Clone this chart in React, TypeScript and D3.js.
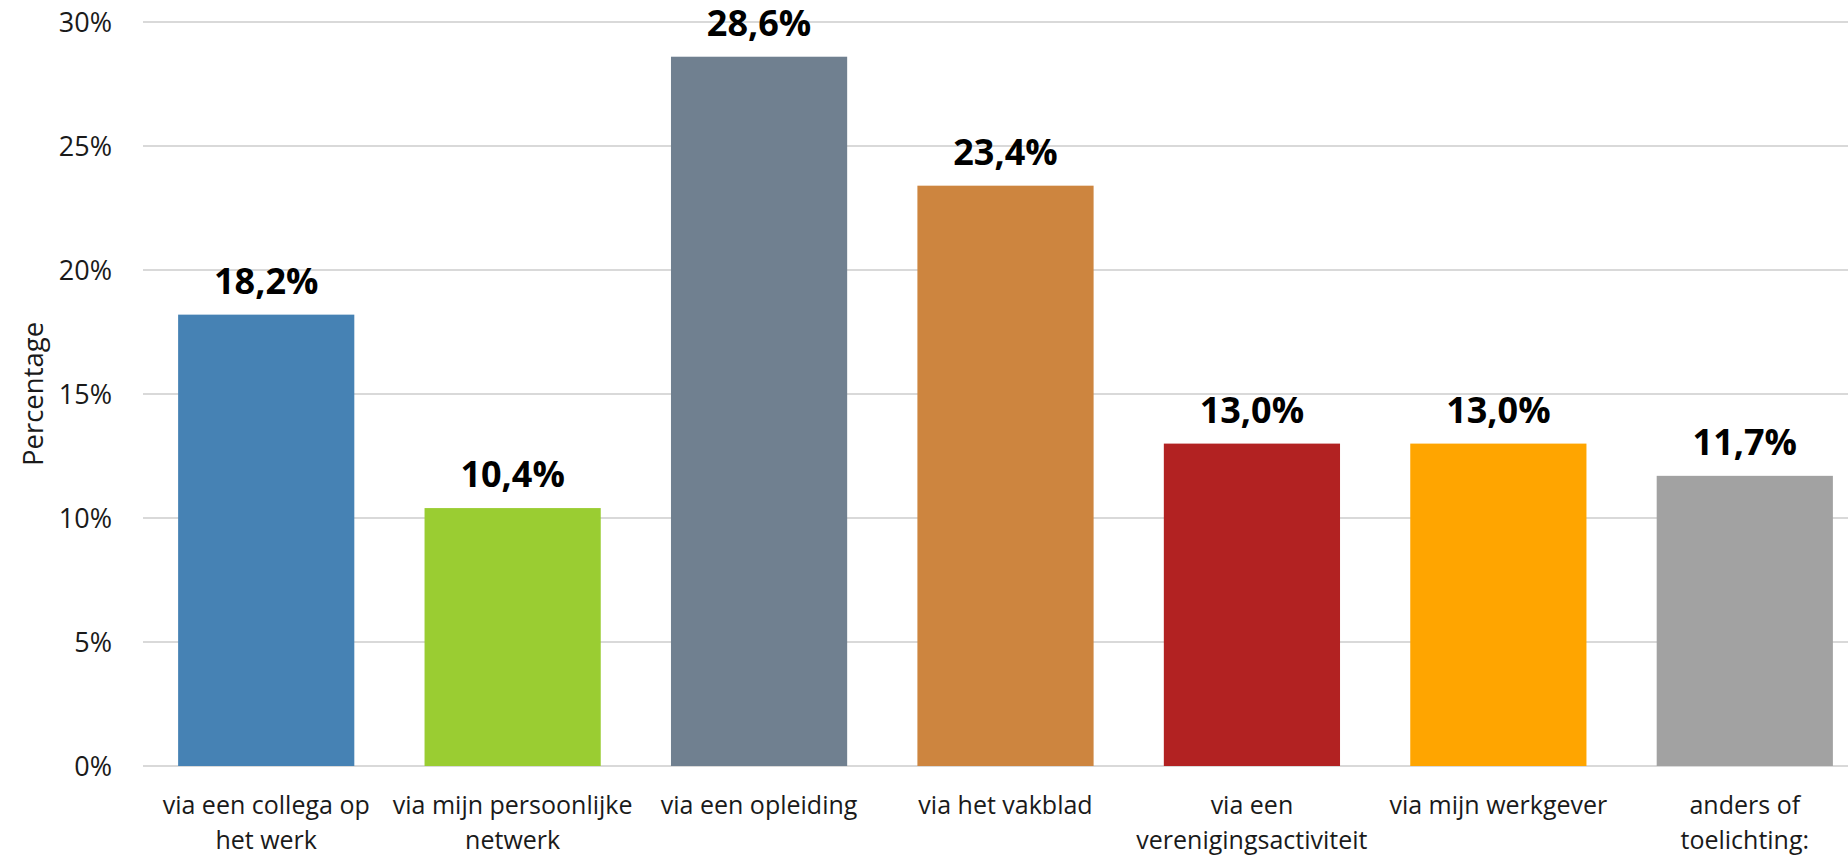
import React from "react";
import * as d3 from "d3";

const categories: string[][] = [
  ["via een collega op", "het werk"],
  ["via mijn persoonlijke", "netwerk"],
  ["via een opleiding"],
  ["via het vakblad"],
  ["via een", "verenigingsactiviteit"],
  ["via mijn werkgever"],
  ["anders of", "toelichting:"],
];
const values: number[] = [18.2, 10.4, 28.6, 23.4, 13.0, 13.0, 11.7];
const colors: string[] = ["#4682B4", "#9ACD32", "#708090", "#CD853F", "#B22222", "#FFA500", "#A2A2A2"];
const yTicks: number[] = [0, 5, 10, 15, 20, 25, 30];
const yTitle = "Percentage";

const W = 1848;
const H = 859;
const FONT = "'Open Sans', 'Noto Sans', sans-serif";

export default function App() {
  const ids = categories.map((_, i) => String(i));
  const x = d3.scaleBand<string>().domain(ids).range([143, 1868]).paddingInner(0.285).paddingOuter(0.1425);
  const y = d3.scaleLinear().domain([0, 30]).range([766, 22]);
  const fmt = (v: number) => v.toFixed(1).replace(".", ",") + "%";

  return (
    <svg
      width={W}
      height={H}
      style={{ position: "absolute", left: 0, top: 0, display: "block", background: "#fff" }}
      fontFamily={FONT}
    >
      {yTicks.map((t) => (
        <g key={t}>
          <line x1={143} x2={W} y1={y(t)} y2={y(t)} stroke="#D9D9D9" strokeWidth={2} />
          <text x={112} y={y(t)} dy="0.36em" textAnchor="end" fontSize={27} fill="#1a1a1a">
            {t}%
          </text>
        </g>
      ))}
      <text transform={`translate(43,394) rotate(-90)`} textAnchor="middle" fontSize={27.5} fill="#1a1a1a">
        {yTitle}
      </text>
      {values.map((v, i) => {
        const bx = x(String(i))!;
        const bw = x.bandwidth();
        return (
          <g key={i}>
            <rect x={bx} y={y(v)} width={bw} height={y(0) - y(v)} fill={colors[i]} />
            <text x={bx + bw / 2} y={y(v) - 21} textAnchor="middle" fontSize={36} fontWeight={700} fill="#000">
              {fmt(v)}
            </text>
            {categories[i].map((line, j) => (
              <text key={j} x={bx + bw / 2} y={814 + j * 35} textAnchor="middle" fontSize={25} fill="#1a1a1a">
                {line}
              </text>
            ))}
          </g>
        );
      })}
    </svg>
  );
}
